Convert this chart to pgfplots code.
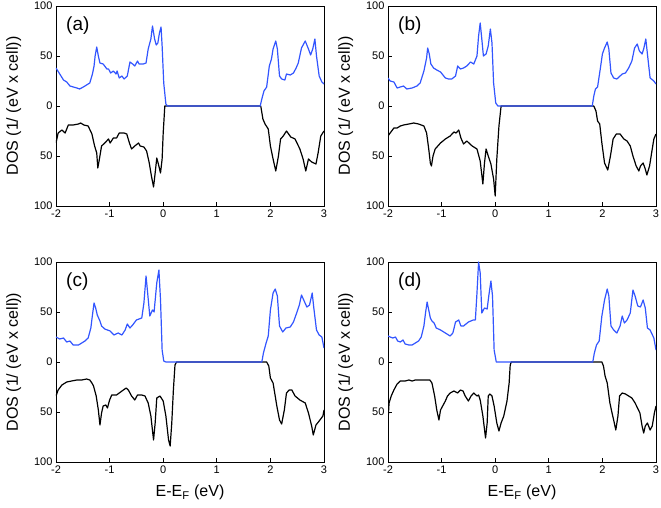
\documentclass[border=0pt]{standalone}
\usepackage{pgfplots}
\pgfplotsset{compat=1.18}
\usepgfplotslibrary{groupplots}
\usepackage{fontspec}
\setmainfont{Liberation Sans}

\definecolor{upblue}{RGB}{50,85,255}

\pgfplotsset{
  dosax/.style={
    scale only axis, width=268pt, height=200pt,
    xmin=-2, xmax=3, ymin=-100, ymax=100,
    xtick={-2,-1,0,1,2,3}, xticklabels={-2,-1,0,1,2,3},
    ytick={-100,-50,0,50,100}, yticklabels={100,50,0,50,100},
    tick align=inside, tick pos=left, major tick length=4pt,
    tick style={black, line width=0.8pt},
    axis line style={line width=0.8pt},
    tick label style={font=\fontsize{11}{13}\selectfont},
    label style={font=\fontsize{16}{19}\selectfont},
    ylabel={DOS (1/ (eV x cell))},
    ylabel shift=6pt, xlabel shift=5pt,
  },
  dn/.style={black, line width=1.2pt, no markers, line join=round},
  up/.style={upblue, line width=1.2pt, no markers, line join=round},
}
\newcommand{\panel}[1]{\node[anchor=west, font=\fontsize{19}{22}\selectfont] at (rel axis cs:0.025,0.9) {#1};}

\begin{document}
\begin{tikzpicture}
\begin{groupplot}[group style={group size=2 by 2, horizontal sep=64pt, vertical sep=56pt}, dosax]

% ---- (a)
\nextgroupplot
\addplot[dn] coordinates {
(-2.00,-37) (-1.96,-27) (-1.89,-24) (-1.83,-27) (-1.77,-19) (-1.68,-19) (-1.58,-18)
(-1.54,-17) (-1.48,-19) (-1.40,-20) (-1.33,-28) (-1.28,-40) (-1.24,-47) (-1.22,-62)
(-1.19,-53) (-1.15,-40) (-1.09,-37) (-1.02,-33) (-0.99,-37) (-0.93,-32) (-0.87,-32)
(-0.82,-27) (-0.73,-27) (-0.68,-28) (-0.63,-37) (-0.59,-43) (-0.53,-40) (-0.46,-37)
(-0.43,-40) (-0.36,-41) (-0.31,-45) (-0.26,-57) (-0.22,-70) (-0.18,-81) (-0.15,-67)
(-0.12,-52) (-0.09,-58) (-0.05,-67) (-0.02,-53) (0.00,-27) (0.03,0) (1.82,0)
(1.86,-13) (1.90,-18) (1.96,-23) (2.00,-40) (2.05,-53) (2.10,-65) (2.15,-50)
(2.19,-33) (2.24,-30) (2.30,-25) (2.38,-31) (2.46,-33) (2.55,-43) (2.61,-53)
(2.66,-65) (2.71,-53) (2.77,-56) (2.85,-58) (2.89,-47) (2.94,-30) (3.00,-25)
};
\addplot[up] coordinates {
(-2.00,38) (-1.93,32) (-1.86,26) (-1.80,24) (-1.74,20) (-1.61,18) (-1.56,17)
(-1.49,19) (-1.43,21) (-1.37,23) (-1.32,32) (-1.29,40) (-1.27,50) (-1.24,59)
(-1.21,50) (-1.18,43) (-1.12,42) (-1.05,37) (-1.02,37) (-0.98,33) (-0.93,35)
(-0.88,32) (-0.86,35) (-0.82,28) (-0.77,30) (-0.73,27) (-0.67,30) (-0.62,44)
(-0.57,42) (-0.53,40) (-0.48,45) (-0.45,42) (-0.37,42) (-0.32,43) (-0.28,57)
(-0.23,67) (-0.20,80) (-0.16,67) (-0.13,61) (-0.10,63) (-0.07,73) (-0.04,79)
(-0.02,60) (0.01,23) (0.05,2) (0.08,0) (1.81,0) (1.84,7) (1.88,15) (1.93,19)
(1.98,40) (2.02,47) (2.05,57) (2.10,65) (2.13,57) (2.17,30) (2.21,27) (2.27,26)
(2.30,32) (2.37,31) (2.43,33) (2.48,38) (2.52,43) (2.58,58) (2.65,65) (2.71,57)
(2.75,51) (2.79,57) (2.83,67) (2.86,50) (2.91,30) (2.96,24) (3.00,22)
};
\panel{(a)}

% ---- (b)
\nextgroupplot
\addplot[dn] coordinates {
(-2.00,-30) (-1.96,-27) (-1.89,-22) (-1.83,-22) (-1.77,-20) (-1.71,-19) (-1.61,-18)
(-1.52,-17) (-1.43,-18) (-1.33,-20) (-1.28,-27) (-1.24,-43) (-1.21,-57) (-1.19,-60)
(-1.16,-50) (-1.12,-43) (-1.02,-37) (-0.93,-33) (-0.84,-30) (-0.77,-26) (-0.73,-27)
(-0.68,-24) (-0.64,-32) (-0.59,-38) (-0.53,-35) (-0.43,-40) (-0.34,-43) (-0.28,-55)
(-0.23,-78) (-0.20,-57) (-0.17,-43) (-0.13,-50) (-0.08,-58) (-0.03,-73) (0.00,-90)
(0.03,-53) (0.07,-20) (0.11,0) (1.84,0) (1.88,-5) (1.91,-15) (1.95,-18) (1.99,-37)
(2.04,-57) (2.10,-64) (2.15,-50) (2.20,-33) (2.26,-28) (2.33,-28) (2.40,-33)
(2.46,-35) (2.52,-40) (2.57,-50) (2.63,-60) (2.68,-65) (2.71,-60) (2.76,-57)
(2.80,-63) (2.83,-69) (2.88,-60) (2.93,-43) (2.96,-33) (3.00,-28)
};
\addplot[up] coordinates {
(-2.00,28) (-1.96,25) (-1.89,24) (-1.83,18) (-1.77,19) (-1.71,20) (-1.65,17)
(-1.55,18) (-1.46,20) (-1.40,23) (-1.33,35) (-1.28,48) (-1.26,58) (-1.23,52)
(-1.20,42) (-1.15,38) (-1.09,36) (-1.02,34) (-0.93,28) (-0.87,27) (-0.81,27)
(-0.74,30) (-0.70,40) (-0.65,37) (-0.59,38) (-0.53,40) (-0.46,44) (-0.40,42)
(-0.34,50) (-0.31,70) (-0.28,83) (-0.25,67) (-0.22,50) (-0.17,52) (-0.13,60)
(-0.09,77) (-0.06,63) (-0.03,23) (0.01,3) (0.05,0) (1.81,0) (1.84,10) (1.87,17)
(1.91,19) (1.96,37) (2.00,52) (2.04,58) (2.09,64) (2.12,57) (2.16,33) (2.21,28)
(2.27,27) (2.37,32) (2.43,33) (2.49,38) (2.55,45) (2.60,58) (2.65,62) (2.69,55)
(2.74,52) (2.77,57) (2.81,67) (2.84,52) (2.89,28) (2.96,25) (3.00,22)
};
\panel{(b)}

% ---- (c)
\nextgroupplot[xlabel={E-E\textsubscript{F} (eV)}]
\addplot[dn] coordinates {
(-2.00,-34) (-1.96,-28) (-1.89,-23) (-1.80,-20) (-1.71,-19) (-1.61,-18) (-1.52,-18)
(-1.43,-17) (-1.37,-18) (-1.33,-21) (-1.30,-24) (-1.25,-34) (-1.21,-48) (-1.18,-63)
(-1.15,-51) (-1.12,-44) (-1.07,-43) (-1.04,-46) (-1.00,-38) (-0.96,-33) (-0.87,-33)
(-0.77,-29) (-0.69,-26) (-0.65,-28) (-0.59,-34) (-0.53,-38) (-0.48,-33) (-0.40,-33)
(-0.34,-34) (-0.28,-41) (-0.23,-54) (-0.18,-78) (-0.15,-61) (-0.12,-36) (-0.06,-34)
(0.00,-39) (0.05,-54) (0.10,-78) (0.13,-84) (0.16,-61) (0.19,-28) (0.22,-3)
(0.25,0) (1.93,0) (1.97,-4) (2.00,-16) (2.05,-21) (2.12,-44) (2.17,-58) (2.21,-62)
(2.26,-48) (2.30,-31) (2.35,-28) (2.40,-28) (2.46,-34) (2.55,-38) (2.65,-41)
(2.71,-51) (2.77,-64) (2.80,-73) (2.85,-63) (2.91,-59) (2.98,-54) (3.00,-48)
};
\addplot[up] coordinates {
(-2.00,25) (-1.93,23) (-1.86,24) (-1.80,20) (-1.74,21) (-1.68,17) (-1.58,17)
(-1.52,19) (-1.46,21) (-1.40,24) (-1.35,34) (-1.32,47) (-1.29,59) (-1.26,54)
(-1.23,47) (-1.18,41) (-1.15,36) (-1.09,33) (-0.99,31) (-0.92,27) (-0.84,29)
(-0.77,27) (-0.71,32) (-0.67,38) (-0.62,34) (-0.57,37) (-0.50,42) (-0.40,44)
(-0.36,59) (-0.32,86) (-0.29,69) (-0.25,46) (-0.20,52) (-0.17,50) (-0.12,79)
(-0.08,92) (-0.05,62) (-0.02,12) (0.01,1) (0.05,0) (1.84,0) (1.87,9) (1.92,19)
(1.96,26) (2.00,52) (2.05,69) (2.09,73) (2.13,66) (2.17,36) (2.23,30) (2.29,34)
(2.37,35) (2.43,40) (2.49,49) (2.54,57) (2.58,67) (2.63,61) (2.68,55) (2.73,57)
(2.78,69) (2.81,54) (2.86,32) (2.91,27) (2.96,25) (3.00,14)
};
\panel{(c)}

% ---- (d)
\nextgroupplot[xlabel={E-E\textsubscript{F} (eV)}]
\addplot[dn] coordinates {
(-2.00,-59) (-1.98,-41) (-1.94,-34) (-1.89,-28) (-1.83,-22) (-1.77,-19) (-1.68,-19)
(-1.61,-18) (-1.55,-19) (-1.49,-18) (-1.43,-18) (-1.33,-18) (-1.22,-18) (-1.18,-21)
(-1.13,-34) (-1.09,-48) (-1.05,-58) (-1.02,-48) (-0.97,-43) (-0.93,-39) (-0.89,-34)
(-0.84,-31) (-0.77,-29) (-0.70,-31) (-0.65,-28) (-0.60,-29) (-0.56,-34) (-0.50,-39)
(-0.45,-34) (-0.40,-31) (-0.34,-34) (-0.31,-33) (-0.28,-38) (-0.23,-54) (-0.18,-76)
(-0.15,-61) (-0.13,-34) (-0.10,-32) (-0.06,-34) (-0.02,-44) (0.03,-61) (0.07,-69)
(0.11,-61) (0.16,-54) (0.22,-39) (0.26,-21) (0.28,-3) (0.30,0) (1.99,0) (2.02,-4)
(2.05,-14) (2.09,-21) (2.14,-41) (2.18,-51) (2.21,-58) (2.25,-68) (2.29,-54)
(2.32,-34) (2.37,-31) (2.43,-32) (2.49,-34) (2.55,-36) (2.61,-41) (2.70,-51)
(2.74,-64) (2.77,-71) (2.80,-64) (2.84,-61) (2.89,-68) (2.93,-64) (2.97,-51) (3.00,-44)
};
\addplot[up] coordinates {
(-2.00,26) (-1.96,25) (-1.91,24) (-1.86,25) (-1.82,21) (-1.77,20) (-1.72,22)
(-1.68,18) (-1.61,17) (-1.55,17) (-1.49,19) (-1.43,21) (-1.38,25) (-1.33,36)
(-1.30,49) (-1.27,60) (-1.24,52) (-1.21,44) (-1.18,41) (-1.14,39) (-1.10,34)
(-1.02,32) (-0.96,30) (-0.90,28) (-0.84,26) (-0.79,29) (-0.74,40) (-0.68,42)
(-0.64,36) (-0.59,36) (-0.50,40) (-0.41,42) (-0.37,42) (-0.34,69) (-0.31,100)
(-0.28,89) (-0.25,49) (-0.20,54) (-0.15,53) (-0.12,66) (-0.08,81) (-0.05,66)
(-0.02,12) (0.02,0) (1.82,0) (1.85,9) (1.89,17) (1.94,21) (1.99,46) (2.04,62)
(2.09,73) (2.12,66) (2.16,36) (2.21,32) (2.27,29) (2.33,36) (2.37,46) (2.41,39)
(2.46,42) (2.52,49) (2.57,72) (2.61,66) (2.66,56) (2.71,55) (2.76,62) (2.80,54)
(2.84,34) (2.89,32) (2.96,24) (3.00,12)
};
\panel{(d)}
\end{groupplot}
\pgfresetboundingbox
\path ([xshift=-56pt,yshift=6pt]group c1r1.north west) rectangle ([xshift=5pt,yshift=-46pt]group c2r2.south east);
\end{tikzpicture}
\end{document}
